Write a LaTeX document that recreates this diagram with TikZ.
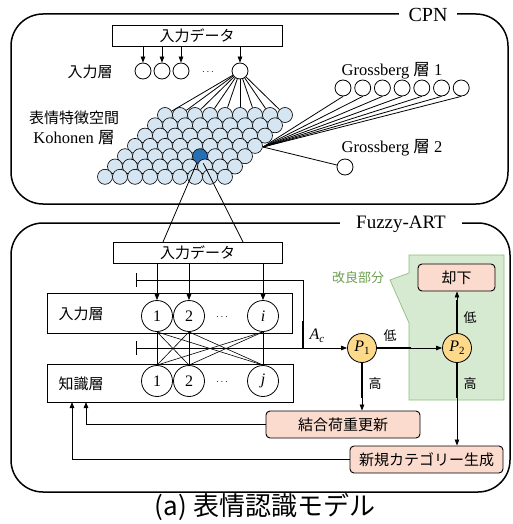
\documentclass[tikz,border=0pt]{standalone}
\usepackage{fontspec}
\setmainfont{Liberation Serif}
\newfontfamily\jp{Noto Sans CJK JP}
\usetikzlibrary{arrows.meta,calc}
\definecolor{kblue}{HTML}{D5E5F2}
\definecolor{kdark}{HTML}{2570B5}
\definecolor{pyel}{HTML}{FDD98B}
\definecolor{salm}{HTML}{FADBCD}
\definecolor{gfill}{HTML}{D6EAD2}
\definecolor{gdraw}{HTML}{8CBF7A}
\definecolor{gtext}{HTML}{6A9F4E}
\begin{document}
\begin{tikzpicture}[x=1pt,y=-1pt,
  every node/.style={inner sep=0pt},
  lw/.style={line width=0.8pt},
  thk/.style={line width=2.2pt},
  arr/.style={line width=0.8pt,-{Triangle[length=6pt,width=4.5pt]}},
  outer/.style={line width=1.5pt,rounded corners=32pt},
  jtext/.style={font=\jp\fontsize{15}{15}\selectfont},
  stext/.style={font=\fontsize{16.5}{16.5}\selectfont},
  databox/.style={draw,line width=0.9pt,minimum width=170pt,minimum height=21pt,jtext},
  layerbox/.style={draw,line width=0.8pt,minimum width=245pt},
  inc/.style={circle,draw,line width=0.8pt,minimum size=16pt},
  kc/.style={circle,draw,line width=0.6pt,minimum size=15pt},
  fc/.style={circle,draw,line width=0.8pt,minimum size=31pt,font=\fontsize{16}{16}\selectfont},
  pc/.style={circle,draw,line width=0.8pt,fill=pyel,minimum size=29pt,font=\fontsize{16}{16}\selectfont},
  actbox/.style={draw,line width=0.9pt,rounded corners=4pt,fill=salm,minimum height=27pt,jtext},
  lab/.style={font=\jp\fontsize{13}{13}\selectfont}
]
\useasboundingbox (0,0) rectangle (513,524);

% ---------------- CPN ----------------
\draw[outer] (11,14) rectangle (508,204);
\node[fill=white,inner xsep=10pt,inner ysep=3pt,font=\fontsize{20}{20}\selectfont] (cpn) at (428,15) {CPN};

\node[databox] (cin) at (197,35.5) {入力データ};
\node[jtext] (lin) at (90,72) {入力層};
\node[inc] (n1) at (143,71) {};
\node[inc] (n2) at (162,71) {};
\node[inc] (n3) at (181,71) {};
\node[inc] (n4) at (240,71) {};
\node (ndots) at (208,72) {$\cdots$};
\foreach \n in {n1,n2,n3,n4} \draw[arr] (\n |- cin.south) -- (\n);

\node[jtext] (lfeat) at (74,118) {表情特徴空間};
\node[stext] (lkoh) at (74,138) {Kohonen {\jp 層}};

\foreach \r in {0,...,6}{
  \foreach \c in {0,...,8}{
    \pgfmathsetmacro{\xx}{165-10*\r+15*\c}
    \pgfmathsetmacro{\yy}{115+10.3*\r}
    \ifnum\r=4 \ifnum\c=5 \def\fcol{kdark}\else\def\fcol{kblue}\fi\else\def\fcol{kblue}\fi
    \node[kc,fill=\fcol] (k-\r-\c) at (\xx,\yy) {};
  }
}
\foreach \c in {0,...,8} \draw[lw] (n4) -- (k-0-\c);

\node[stext] (lg1) at (392,71) {Grossberg {\jp 層} 1};
\foreach \k in {0,...,6} \node[inc] (g\k) at ({343+19.7*\k},88) {};
\coordinate (conv) at (263,147);
\foreach \k in {0,...,6} \draw[lw] (conv) -- (g\k.south);
\node[stext] (lg2) at (392,148) {Grossberg {\jp 層} 2};
\node[inc] (g2x) at (345,167) {};
\draw[lw] (conv) -- (g2x);

% ---------------- Fuzzy-ART ----------------
\draw[outer] (11,223) rectangle (510,492);
\node[fill=white,inner xsep=16pt,inner ysep=3pt,font=\fontsize{19}{19}\selectfont] (fart) at (401,224) {Fuzzy-ART};

\node[databox,minimum width=169pt] (fin) at (197.5,252.5) {入力データ};
\coordinate (finl) at (163,242);
\coordinate (finr) at (243,242);
\draw[lw] (k-4-5.-115) -- (finl);
\draw[lw] (k-4-5.-65) -- (finr);

% green improved region
\draw[gdraw,fill=gfill,line width=0.7pt] (409,255) -- (504,255) -- (504,400) -- (409,400) -- (409,323) -- (390,280) -- (409,273) -- cycle;
\node[lab,text=gtext] (lkai) at (358,278) {改良部分};

\node[layerbox,minimum height=40pt] (ibox) at (169.5,313) {};
\node[jtext] (lil) at (81,314) {入力層};
\node[layerbox,minimum width=246pt,minimum height=38pt] (kbox) at (170,383) {};
\node[jtext] (lkl) at (81,384) {知識層};

\node[fc] (a1) at (157,316) {1};
\node[fc] (a2) at (189,316) {2};
\node[fc] (ai) at (263,316) {\textit{i}};
\node (adots) at (222,317) {$\cdots$};
\node[fc] (b1) at (157,381) {1};
\node[fc] (b2) at (189,381) {2};
\node[fc] (bj) at (263,381) {\textit{j}};
\node (bdots) at (222,382) {$\cdots$};

\foreach \n in {a1,a2,ai} \draw[arr] (\n |- fin.south) -- (\n.north);
\foreach \s in {a1,a2,ai}{
  \foreach \t in {b1,b2,bj}{
    \draw[line width=0.6pt] (\s.south) -- (\t.north);
  }
}

\node[pc] (p1) at (362,348) {\textit{P}\raisebox{-3.5pt}{\fontsize{11}{11}\selectfont 1}};
\node[pc] (p2) at (457,348) {\textit{P}\raisebox{-3.5pt}{\fontsize{11}{11}\selectfont 2}};

% inhibitory inputs
\coordinate (t1) at (136,280);
\coordinate (t2) at (136,348);
\coordinate (c1) at (303,280);
\coordinate (j1) at (303,348);
\draw[lw] ($(t1)+(0,-7)$) -- ($(t1)+(0,7)$);
\draw[lw] ($(t2)+(0,-7)$) -- ($(t2)+(0,7)$);
\draw[lw] (t1) -- (c1) -- (j1);
\draw[arr] (t2) -- (p1);
\draw[thk] (303,321) -- (j1);
\node[font=\fontsize{16}{16}\selectfont] (lac) at (317,336) {\textit{A}\raisebox{-3.5pt}{\fontsize{11}{11}\selectfont\textit{c}}};

\node[actbox,minimum width=77pt] (rej) at (456.5,277.5) {却下};
\node[actbox,minimum width=154pt] (upd) at (343,424.5) {結合荷重更新};
\node[actbox,minimum width=153pt] (newc) at (426.5,459.5) {新規カテゴリー生成};

\draw[arr] (p1) -- (p2);
\draw[thk] (p1.east) -- (411,348);
\node[lab] (llow1) at (390,336) {低};
\draw[arr] (p1) -- (p1 |- upd.north);
\draw[thk] (p1.south) -- (362,398);
\node[lab] (lhigh1) at (375,384) {高};
\draw[arr] (p2) -- (p2 |- newc.north);
\draw[thk] (p2.south) -- (457,398);
\node[lab] (lhigh2) at (470,384) {高};
\draw[arr] (p2) -- (p2 |- rej.south);
\draw[thk] (p2.north) -- (457,300);
\node[lab] (llow2) at (470,318) {低};

\coordinate (fb1) at (86,402);
\coordinate (fb2) at (72,402);
\draw[arr] (upd.west) -| (fb1);
\draw[arr] (newc.west) -| (fb2);

\node[font=\jp\fontsize{26}{26}\selectfont] (cap) at (265,507) {(a) 表情認識モデル};
\end{tikzpicture}
\end{document}
